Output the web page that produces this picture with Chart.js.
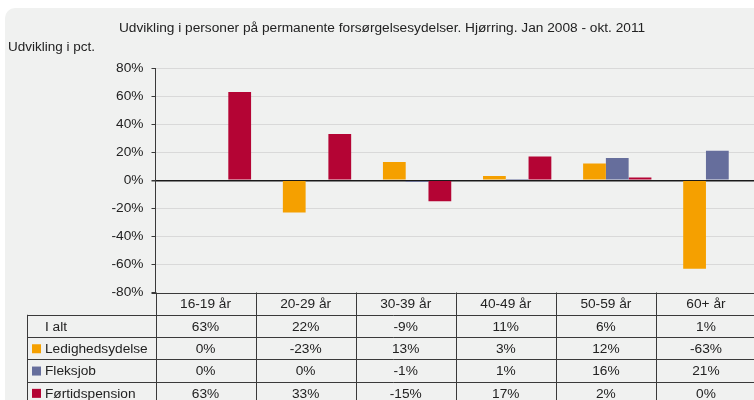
<!DOCTYPE html>
<html>
<head>
<meta charset="utf-8">
<script src="https://cdn.jsdelivr.net/npm/chart.js@4.4.1/dist/chart.umd.min.js"></script>
<style>
  html, body { margin: 0; padding: 0; overflow: hidden; background: #fff; }
  #wrap { width: 760px; height: 420px; position: relative; }
</style>
</head>
<body>
<div id="wrap"><canvas id="udvikling"></canvas></div>
<script>
// data
var categories = ['16-19 år', '20-29 år', '30-39 år', '40-49 år', '50-59 år', '60+ år'];
var iAlt = [63, 22, -9, 11, 6, 1];
var ledighedsydelse = [0, -23, 13, 3, 12, -63];
var fleksjob = [0, 0, -1, 1, 16, 21];
var foertidspension = [63, 33, -15, 17, 2, 0];
var yTickValues = [-80, -60, -40, -20, 0, 20, 40, 60, 80];

var FONT = 'Liberation Sans, Arial, sans-serif';
var TEXT = '#222';

// grey rounded panel behind the chart
var panelPlugin = {
  id: 'panel',
  beforeDraw: function (chart) {
    var c = chart.ctx;
    c.save();
    c.fillStyle = '#ffffff';
    c.fillRect(0, 0, chart.width, chart.height);
    c.fillStyle = '#f0f1f0';
    c.beginPath();
    c.roundRect(5, 8, chart.width + 20, chart.height + 20, 10);
    c.fill();
    c.restore();
  }
};

// data table under the plot, columns follow the x scale
var tablePlugin = {
  id: 'datatable',
  afterDraw: function (chart) {
    var c = chart.ctx;
    var area = chart.chartArea;
    var xs = chart.scales.x;
    var n = categories.length;
    var catW = (area.right - area.left) / n;
    var top = area.bottom;
    var rowH = 22.3;
    var labelLeft = 27.5;
    var rows = chart.data.datasets;

    c.save();
    c.strokeStyle = '#3a3a3a';
    c.lineWidth = 1;
    c.beginPath();
    // top border = bottom of plot
    c.moveTo(area.left - 4, Math.round(top) + 0.5);
    c.lineTo(chart.width, Math.round(top) + 0.5);
    // column borders
    for (var i = 0; i <= n; i++) {
      var x = Math.round(area.left + i * catW) + 0.5;
      c.moveTo(x, top);
      c.lineTo(x, top + rowH * (rows.length + 1));
    }
    // row label column
    c.moveTo(labelLeft, top + rowH);
    c.lineTo(labelLeft, top + rowH * (rows.length + 1));
    for (var r = 1; r <= rows.length + 1; r++) {
      var y = Math.round(top + rowH * r) + 0.5;
      c.moveTo(labelLeft, y);
      c.lineTo(chart.width, y);
    }
    c.stroke();

    c.font = '13.7px ' + FONT;
    c.fillStyle = TEXT;
    c.textBaseline = 'middle';
    c.textAlign = 'center';
    for (var j = 0; j < n; j++) {
      c.fillText(categories[j], xs.getPixelForValue(j), top + rowH / 2 + 1);
    }
    for (var k = 0; k < rows.length; k++) {
      var ds = rows[k];
      var cy = top + rowH * (k + 1) + rowH / 2 + 1;
      if (ds.legendColor) {
        c.fillStyle = ds.legendColor;
        c.fillRect(32, cy - 5, 9, 9);
      }
      c.fillStyle = TEXT;
      c.textAlign = 'left';
      c.fillText(ds.label, 45, cy);
      c.textAlign = 'center';
      for (var m = 0; m < n; m++) {
        c.fillText(Math.round(ds.data[m]) + '%', xs.getPixelForValue(m), cy);
      }
    }
    c.restore();
  }
};

var ctx = document.getElementById('udvikling').getContext('2d');
var chart = new Chart(ctx, {
  type: 'bar',
  data: {
    labels: categories,
    datasets: [
      { label: 'I alt', data: iAlt, backgroundColor: 'rgba(0,0,0,0)', legendColor: null },
      { label: 'Ledighedsydelse', data: ledighedsydelse, backgroundColor: '#f5a000', legendColor: '#f5a000' },
      { label: 'Fleksjob', data: fleksjob, backgroundColor: '#666e9c', legendColor: '#666e9c' },
      { label: 'Førtidspension', data: foertidspension, backgroundColor: '#b40434', legendColor: '#b40434' }
    ]
  },
  options: {
    responsive: true,
    maintainAspectRatio: false,
    animation: false,
    events: [],
    layout: { padding: { left: 8, right: 4, top: 0, bottom: 127.5 } },
    datasets: {
      bar: { categoryPercentage: 0.91, barPercentage: 1, borderWidth: 0 }
    },
    scales: {
      x: { display: false },
      y: {
        min: -80,
        max: 80,
        afterFit: function (scale) { scale.width = 147.5; },
        afterBuildTicks: function (scale) {
          scale.ticks = yTickValues.map(function (v) { return { value: v }; });
        },
        ticks: {
          padding: 8,
          color: TEXT,
          font: { family: FONT, size: 13.7 },
          callback: function (v) { return v + '%'; }
        },
        grid: {
          tickLength: 4,
          tickColor: '#3a3a3a',
          color: function (c) {
            if (c.tick && c.tick.value === 0) return '#1a1a1a';
            if (c.tick && c.tick.value === -80) return 'rgba(0,0,0,0)';
            return '#d9d9d9';
          },
          lineWidth: function (c) { return c.tick && c.tick.value === 0 ? 1.5 : 1; }
        },
        border: { display: true, color: '#3a3a3a', width: 1 }
      }
    },
    plugins: {
      legend: { display: false },
      tooltip: { enabled: false },
      title: {
        display: true,
        text: 'Udvikling i personer på permanente forsørgelsesydelser. Hjørring. Jan 2008 - okt. 2011',
        color: TEXT,
        font: { family: FONT, size: 13.7, weight: 'normal' },
        padding: { top: 20, bottom: 3 }
      },
      subtitle: {
        display: true,
        text: 'Udvikling i pct.',
        align: 'start',
        color: TEXT,
        font: { family: FONT, size: 13.5, weight: 'normal' },
        padding: { top: 0, bottom: 12.5 }
      }
    }
  },
  plugins: [panelPlugin, tablePlugin]
});
</script>
</body>
</html>
